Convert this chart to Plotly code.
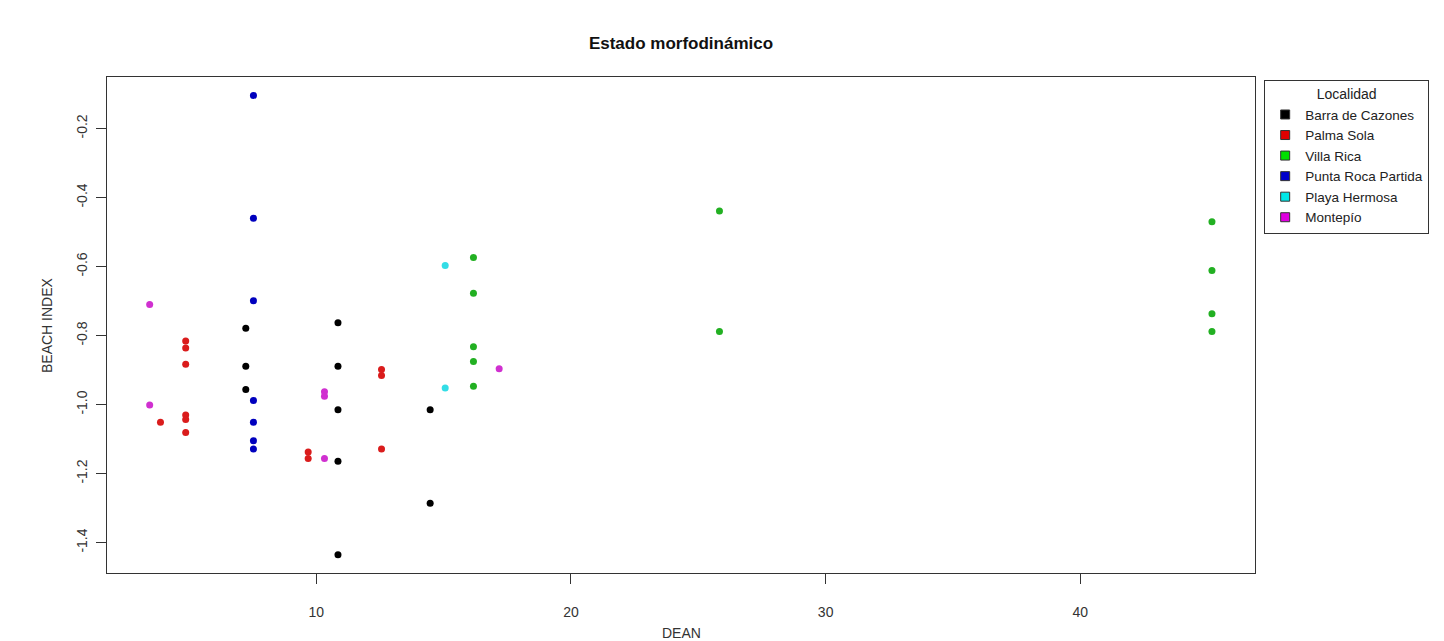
import plotly.graph_objects as go

# Data
localidades = ["Barra de Cazones", "Palma Sola", "Villa Rica",
               "Punta Roca Partida", "Playa Hermosa", "Montepío"]

barra_x = [7.23, 7.23, 7.23, 10.85, 10.85, 10.85, 10.85, 10.85, 14.47, 14.47]
barra_y = [-0.779, -0.889, -0.956, -0.763, -0.889, -1.015, -1.164, -1.435, -1.015, -1.286]

palma_x = [4.87, 4.87, 4.87, 4.87, 4.87, 4.87, 3.88, 9.68, 9.68, 12.56, 12.56, 12.56]
palma_y = [-0.816, -0.836, -0.883, -1.030, -1.043, -1.081, -1.051, -1.137, -1.156, -0.898, -0.916, -1.129]

villa_x = [16.17, 16.17, 16.17, 16.17, 16.17, 25.83, 25.83, 45.17, 45.17, 45.17, 45.17]
villa_y = [-0.574, -0.677, -0.832, -0.875, -0.947, -0.439, -0.788, -0.470, -0.611, -0.737, -0.788]

punta_x = [7.53, 7.53, 7.53, 7.53, 7.53, 7.53, 7.53]
punta_y = [-0.104, -0.460, -0.699, -0.988, -1.051, -1.105, -1.129]

playa_x = [15.06, 15.06]
playa_y = [-0.597, -0.952]

monte_x = [3.456, 3.456, 10.32, 10.32, 10.32, 17.18]
monte_y = [-0.710, -1.001, -0.963, -0.976, -1.156, -0.896]

x_ticks = [10, 20, 30, 40]
y_ticks = [-0.2, -0.4, -0.6, -0.8, -1.0, -1.2, -1.4]
y_ticklabels = ["-0.2", "-0.4", "-0.6", "-0.8", "-1.0", "-1.2", "-1.4"]

point_colors = ["#000000", "#DA1C1C", "#22B022", "#0000BE", "#33DDE6", "#D030D0"]
legend_colors = ["#000000", "#E00000", "#00E000", "#0000CC", "#00E8E8", "#E000E0"]

series = [(barra_x, barra_y), (palma_x, palma_y), (villa_x, villa_y),
          (punta_x, punta_y), (playa_x, playa_y), (monte_x, monte_y)]

fig = go.Figure()
for name, (xs, ys), pc in zip(localidades, series, point_colors):
    fig.add_trace(go.Scatter(x=xs, y=ys, mode="markers", name=name,
                             marker=dict(color=pc, size=7, line=dict(width=0)),
                             showlegend=False))
for name, lc in zip(localidades, legend_colors):
    fig.add_trace(go.Scatter(x=[None], y=[None], mode="markers", name=name,
                             marker=dict(color=lc, size=9, symbol="square",
                                         line=dict(color="#333333", width=1)),
                             showlegend=True))

font_family = "Liberation Sans, Arial, sans-serif"

W, H = 1444, 641
L, R, T, B = 107, 189, 77, 68

fig.update_layout(
    width=W, height=H,
    margin=dict(l=L, r=R, t=T, b=B),
    paper_bgcolor="white", plot_bgcolor="white",
    font=dict(family=font_family, size=14, color="#222222"),
    title=dict(text="<b>Estado morfodinámico</b>", x=(L + (W - R)) / 2 / W,
               xanchor="center", y=1 - 43 / H, yanchor="middle", yref="container",
               font=dict(size=17, color="#111111")),
    xaxis=dict(range=[1.78, 46.86], tickvals=x_ticks, ticks="outside", ticklen=10,
               tickcolor="#333333", showgrid=False, zeroline=False,
               showline=True, linecolor="#333333", linewidth=1, mirror=True,
               ticklabelstandoff=16, tickfont=dict(size=14, color="#333333")),
    yaxis=dict(range=[-1.488, -0.0506], tickvals=y_ticks, ticktext=y_ticklabels,
               ticks="outside", ticklen=10, tickangle=-90,
               tickcolor="#333333", showgrid=False, zeroline=False,
               showline=True, linecolor="#333333", linewidth=1, mirror=True,
               ticklabelstandoff=3, tickfont=dict(size=14, color="#333333")),
    legend=dict(x=1.008, xanchor="left", y=1 - 3 / 496, yanchor="top",
                bordercolor="#333333", borderwidth=1, bgcolor="white",
                font=dict(size=13.5, color="#222222"),
                title=dict(text="Localidad", side="top center",
                           font=dict(size=14, color="#222222")),
                tracegroupgap=0, itemwidth=30),
    annotations=[
        dict(text="DEAN", xref="paper", yref="paper", x=0.5, y=0, yshift=-60,
             showarrow=False, yanchor="middle", font=dict(size=14, color="#333333")),
        dict(text="BEACH INDEX", xref="paper", yref="paper", x=0, xshift=-60,
             y=0.5, textangle=-90, showarrow=False, xanchor="center",
             font=dict(size=14, color="#333333")),
    ],
)

fig.write_html(
    "out.html",
    config={"displayModeBar": False},
    post_script="document.body.style.margin='0';document.body.style.overflow='hidden';",
)
